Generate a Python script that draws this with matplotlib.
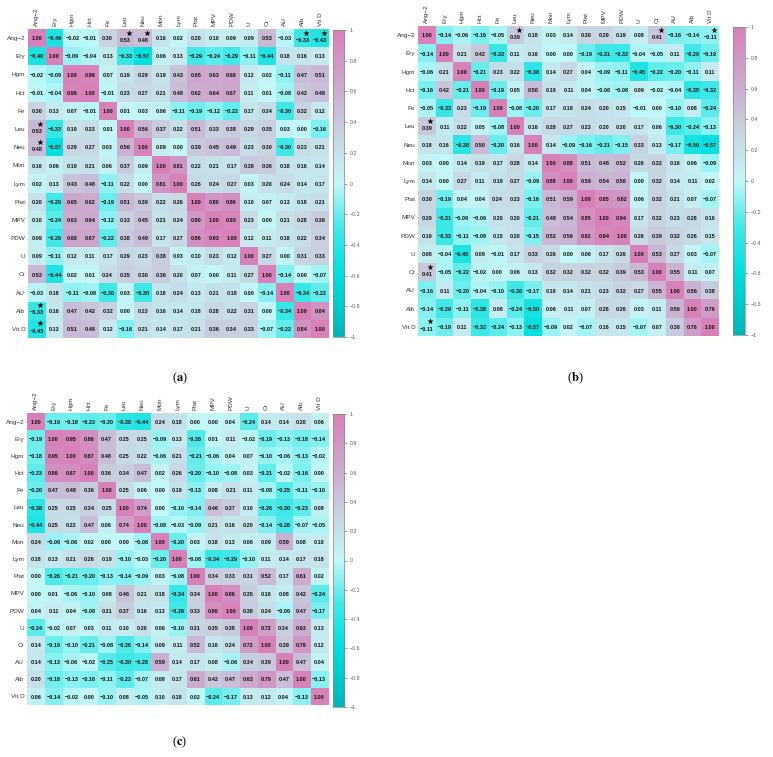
import numpy as np
import matplotlib
matplotlib.use("Agg")
import matplotlib.pyplot as plt
from matplotlib.colors import LinearSegmentedColormap

labels = ["Ang\u22122", "Ery", "Hgm", "Hct", "Fe", "Leu", "Neu", "Mon", "Lym",
          "Plat", "MPV", "PDW", "U", "Cr", "AU", "Alb", "Vit D"]

corr_a = [
    [1.00, -0.46, -0.02, -0.01, 0.30, 0.53, 0.48, 0.16, 0.02, 0.20, 0.10, 0.09, 0.09, 0.53, -0.03, -0.33, -0.43],
    [-0.46, 1.00, -0.09, -0.04, 0.13, -0.33, -0.57, 0.06, 0.13, -0.29, -0.24, -0.29, -0.11, -0.44, 0.18, 0.16, 0.13],
    [-0.02, -0.09, 1.00, 0.96, 0.07, 0.19, 0.29, 0.19, 0.43, 0.65, 0.63, 0.68, 0.12, 0.02, -0.11, 0.47, 0.51],
    [-0.01, -0.04, 0.96, 1.00, -0.01, 0.23, 0.27, 0.21, 0.48, 0.62, 0.64, 0.67, 0.11, 0.01, -0.08, 0.42, 0.48],
    [0.30, 0.13, 0.07, -0.01, 1.00, 0.01, 0.03, 0.06, -0.11, -0.19, -0.12, -0.22, 0.17, 0.24, -0.30, 0.32, 0.12],
    [0.53, -0.33, 0.19, 0.23, 0.01, 1.00, 0.56, 0.37, 0.22, 0.51, 0.33, 0.38, 0.29, 0.35, 0.03, 0.00, -0.16],
    [0.48, -0.57, 0.29, 0.27, 0.03, 0.56, 1.00, 0.09, 0.00, 0.39, 0.45, 0.49, 0.23, 0.30, -0.30, 0.23, 0.21],
    [0.16, 0.06, 0.19, 0.21, 0.06, 0.37, 0.09, 1.00, 0.81, 0.22, 0.21, 0.17, 0.38, 0.36, 0.18, 0.16, 0.14],
    [0.02, 0.13, 0.43, 0.48, -0.11, 0.22, 0.00, 0.81, 1.00, 0.26, 0.24, 0.27, 0.03, 0.20, 0.24, 0.14, 0.17],
    [0.20, -0.29, 0.65, 0.62, -0.19, 0.51, 0.39, 0.22, 0.26, 1.00, 0.80, 0.86, 0.10, 0.07, 0.13, 0.18, 0.21],
    [0.10, -0.24, 0.63, 0.64, -0.12, 0.33, 0.45, 0.21, 0.24, 0.80, 1.00, 0.93, 0.23, 0.00, 0.21, 0.28, 0.36],
    [0.09, -0.29, 0.68, 0.67, -0.22, 0.38, 0.49, 0.17, 0.27, 0.86, 0.93, 1.00, 0.12, 0.11, 0.18, 0.22, 0.34],
    [0.09, -0.11, 0.12, 0.11, 0.17, 0.29, 0.23, 0.38, 0.03, 0.10, 0.23, 0.12, 1.00, 0.27, 0.00, 0.31, 0.33],
    [0.53, -0.44, 0.02, 0.01, 0.24, 0.35, 0.30, 0.36, 0.20, 0.07, 0.00, 0.11, 0.27, 1.00, -0.14, 0.00, -0.07],
    [-0.03, 0.18, -0.11, -0.08, -0.30, 0.03, -0.30, 0.18, 0.24, 0.13, 0.21, 0.18, 0.00, -0.14, 1.00, -0.34, -0.22],
    [-0.33, 0.16, 0.47, 0.42, 0.32, 0.00, 0.23, 0.16, 0.14, 0.18, 0.28, 0.22, 0.31, 0.00, -0.34, 1.00, 0.84],
    [-0.43, 0.13, 0.51, 0.48, 0.12, -0.16, 0.21, 0.14, 0.17, 0.21, 0.36, 0.34, 0.33, -0.07, -0.22, 0.84, 1.00],
]

corr_b = [
    [1.00, -0.14, -0.06, -0.16, -0.05, 0.39, 0.18, 0.03, 0.14, 0.30, 0.29, 0.19, 0.08, 0.41, -0.16, -0.14, -0.11],
    [-0.14, 1.00, 0.21, 0.42, -0.33, 0.11, 0.16, 0.00, 0.00, -0.19, -0.31, -0.32, -0.04, -0.05, 0.11, -0.29, -0.19],
    [-0.06, 0.21, 1.00, -0.21, 0.23, 0.22, -0.38, 0.14, 0.27, 0.04, -0.09, -0.11, -0.45, -0.22, -0.20, -0.11, 0.11],
    [-0.16, 0.42, -0.21, 1.00, -0.19, 0.05, 0.50, 0.19, 0.11, 0.04, -0.06, -0.08, 0.09, -0.02, -0.04, -0.38, -0.32],
    [-0.05, -0.33, 0.23, -0.19, 1.00, -0.08, -0.20, 0.17, 0.19, 0.24, 0.20, 0.15, -0.01, 0.00, -0.10, 0.08, -0.24],
    [0.39, 0.11, 0.22, 0.05, -0.08, 1.00, 0.16, 0.28, 0.27, 0.23, 0.20, 0.20, 0.17, 0.06, -0.30, -0.24, -0.13],
    [0.18, 0.16, -0.38, 0.50, -0.20, 0.16, 1.00, 0.14, -0.09, -0.16, -0.21, -0.15, 0.33, 0.13, -0.17, -0.50, -0.57],
    [0.03, 0.00, 0.14, 0.19, 0.17, 0.28, 0.14, 1.00, 0.88, 0.51, 0.48, 0.52, 0.26, 0.32, 0.16, 0.06, -0.09],
    [0.14, 0.00, 0.27, 0.11, 0.19, 0.27, -0.09, 0.88, 1.00, 0.59, 0.54, 0.56, 0.00, 0.32, 0.14, 0.11, 0.02],
    [0.30, -0.19, 0.04, 0.04, 0.24, 0.23, -0.16, 0.51, 0.59, 1.00, 0.85, 0.82, 0.06, 0.32, 0.21, 0.07, -0.07],
    [0.29, -0.31, -0.09, -0.06, 0.20, 0.20, -0.21, 0.48, 0.54, 0.85, 1.00, 0.94, 0.17, 0.32, 0.23, 0.28, 0.16],
    [0.19, -0.32, -0.11, -0.08, 0.15, 0.20, -0.15, 0.52, 0.56, 0.82, 0.94, 1.00, 0.26, 0.39, 0.32, 0.26, 0.15],
    [0.08, -0.04, -0.45, 0.09, -0.01, 0.17, 0.33, 0.26, 0.00, 0.06, 0.17, 0.26, 1.00, 0.53, 0.27, 0.03, -0.07],
    [0.41, -0.05, -0.22, -0.02, 0.00, 0.06, 0.13, 0.32, 0.32, 0.32, 0.32, 0.39, 0.53, 1.00, 0.55, 0.11, 0.07],
    [-0.16, 0.11, -0.20, -0.04, -0.10, -0.30, -0.17, 0.16, 0.14, 0.21, 0.23, 0.32, 0.27, 0.55, 1.00, 0.56, 0.38],
    [-0.14, -0.29, -0.11, -0.38, 0.08, -0.24, -0.50, 0.06, 0.11, 0.07, 0.28, 0.26, 0.03, 0.11, 0.56, 1.00, 0.76],
    [-0.11, -0.19, 0.11, -0.32, -0.24, -0.13, -0.57, -0.09, 0.02, -0.07, 0.16, 0.15, -0.07, 0.07, 0.38, 0.76, 1.00],
]

corr_c = [
    [1.00, -0.19, -0.18, -0.23, -0.20, -0.38, -0.44, 0.24, 0.18, 0.00, 0.00, 0.04, -0.24, 0.14, 0.14, 0.20, 0.06],
    [-0.19, 1.00, 0.95, 0.86, 0.47, 0.25, 0.25, -0.09, 0.13, -0.26, 0.01, 0.11, -0.02, -0.19, -0.13, -0.18, -0.14],
    [-0.18, 0.95, 1.00, 0.87, 0.48, 0.25, 0.22, -0.06, 0.21, -0.21, -0.06, 0.04, 0.07, -0.10, -0.06, -0.13, -0.02],
    [-0.23, 0.86, 0.87, 1.00, 0.36, 0.34, 0.47, 0.02, 0.26, -0.20, -0.10, -0.08, 0.03, -0.21, -0.02, -0.16, 0.00],
    [-0.20, 0.47, 0.48, 0.36, 1.00, 0.25, 0.06, 0.00, 0.19, -0.13, 0.08, 0.21, 0.11, -0.08, -0.25, -0.11, -0.10],
    [-0.38, 0.25, 0.25, 0.34, 0.25, 1.00, 0.74, 0.00, -0.10, -0.14, 0.46, 0.37, 0.10, -0.26, -0.30, -0.23, 0.08],
    [-0.44, 0.25, 0.22, 0.47, 0.06, 0.74, 1.00, -0.08, -0.03, -0.09, 0.21, 0.16, 0.20, -0.14, -0.28, -0.07, -0.05],
    [0.24, -0.09, -0.06, 0.02, 0.00, 0.00, -0.08, 1.00, -0.20, 0.03, 0.18, 0.13, 0.06, 0.09, 0.59, 0.08, 0.10],
    [0.18, 0.13, 0.21, 0.26, 0.19, -0.10, -0.03, -0.20, 1.00, -0.08, -0.34, -0.29, -0.10, 0.11, 0.14, 0.17, 0.18],
    [0.00, -0.26, -0.21, -0.20, -0.13, -0.14, -0.09, 0.03, -0.08, 1.00, 0.34, 0.33, 0.31, 0.52, 0.17, 0.61, 0.02],
    [0.00, 0.01, -0.06, -0.10, 0.08, 0.46, 0.21, 0.18, -0.34, 0.34, 1.00, 0.86, 0.35, 0.16, 0.08, 0.42, -0.24],
    [0.04, 0.11, 0.04, -0.08, 0.21, 0.37, 0.16, 0.13, -0.29, 0.33, 0.86, 1.00, 0.38, 0.24, -0.06, 0.47, -0.17],
    [-0.24, -0.02, 0.07, 0.03, 0.11, 0.10, 0.20, 0.06, -0.10, 0.31, 0.35, 0.38, 1.00, 0.72, 0.34, 0.63, 0.13],
    [0.14, -0.19, -0.10, -0.21, -0.08, -0.26, -0.14, 0.09, 0.11, 0.52, 0.16, 0.24, 0.72, 1.00, 0.39, 0.79, 0.12],
    [0.14, -0.13, -0.06, -0.02, -0.25, -0.30, -0.28, 0.59, 0.14, 0.17, 0.08, -0.06, 0.34, 0.39, 1.00, 0.47, 0.04],
    [0.20, -0.18, -0.13, -0.16, -0.11, -0.23, -0.07, 0.08, 0.17, 0.61, 0.42, 0.47, 0.63, 0.79, 0.47, 1.00, -0.13],
    [0.06, -0.14, -0.02, 0.00, -0.10, 0.08, -0.05, 0.10, 0.18, 0.02, -0.24, -0.17, 0.13, 0.12, 0.04, -0.13, 1.00],
]

# significance stars: (row, col) pairs
stars_a = [(0, 5), (0, 6), (0, 15), (0, 16)]
stars_b = [(0, 5), (0, 13), (0, 16)]
stars_c = []

cmap = LinearSegmentedColormap.from_list(
    "corr",
    [(0.0, "#00b4b8"), (0.2, "#00dede"), (0.35, "#40e8e8"), (0.5, "#c2f8f8"),
     (0.65, "#c8d6e2"), (0.8, "#cbaed0"), (1.0, "#d880b8")])

W, H = 773, 757
fig = plt.figure(figsize=(W / 100, H / 100), dpi=100)
plt.rcParams['font.family'] = ['Liberation Sans', 'DejaVu Sans']
plt.rcParams['mathtext.fontset'] = 'stix'


def px_rect(x0, y0, x1, y1):
    return [x0 / W, 1 - y1 / H, (x1 - x0) / W, (y1 - y0) / H]


def fmt(v):
    s = f"{v:.2f}"
    return s.replace("-", "\u2212")


def draw_panel(mat, stars, rect, cbrect, letter, letter_xy):
    m = np.array(mat)
    n = len(labels)
    ax = fig.add_axes(px_rect(*rect))
    ax.imshow(m, cmap=cmap, vmin=-1, vmax=1, aspect='auto',
              extent=(-0.5, n - 0.5, n - 0.5, -0.5), interpolation='nearest')
    sset = sorted(set(stars) | set((c, r) for r, c in stars))
    for i in range(n):
        for j in range(n):
            dy = 0.12 if (i, j) in sset else 0.04
            ax.text(j, i + dy, fmt(m[i, j]), ha='center', va='center',
                    fontsize=4.0, fontweight='bold', color='#111111')
    if sset:
        sr = np.array([p[0] for p in sset])
        sc = np.array([p[1] for p in sset])
        ax.scatter(sc + 0.2, sr - 0.3, marker='*', s=22, color='black',
                   linewidths=0, zorder=5, clip_on=False)
    ax.set_xlim(-0.5, n - 0.5)
    ax.set_ylim(n - 0.5, -0.5)
    ax.set_xticks(range(n))
    ax.set_yticks(range(n))
    ax.set_xticklabels(labels, rotation=90, fontsize=4.6, color='#333333')
    ax.set_yticklabels(labels, fontsize=4.6, color='#333333')
    ax.xaxis.tick_top()
    ax.tick_params(length=0, pad=2)
    for s in ax.spines.values():
        s.set_visible(False)

    cax = fig.add_axes(px_rect(*cbrect))
    grad = np.linspace(1, -1, 256).reshape(-1, 1)
    cax.imshow(grad, cmap=cmap, vmin=-1, vmax=1, aspect='auto',
               extent=(0, 1, -1, 1))
    cax.set_xticks([])
    ticks = np.round(np.arange(-1, 1.01, 0.2), 1)
    cax.yaxis.tick_right()
    cax.set_yticks(ticks)
    cax.set_yticklabels([("0" if abs(t) < 1e-9 else (f"{t:g}")).replace("-", "\u2212") for t in ticks],
                        fontsize=3.8, color='#333333')
    cax.tick_params(axis='y', length=2, width=0.4, pad=2, colors='#555555')
    for s in cax.spines.values():
        s.set_color('#888888')
        s.set_linewidth(0.5)

    fig.text(letter_xy[0] / W, 1 - letter_xy[1] / H,
             "($\\mathbf{" + letter + "}$)", ha='center', va='center',
             fontsize=9, family='Liberation Serif')


draw_panel(corr_a, stars_a, (28, 29, 329, 338), (333, 30, 344, 337), "a", (180, 378))
draw_panel(corr_b, stars_b, (418, 26, 719, 336), (733, 27, 745, 335), "b", (575, 378))
draw_panel(corr_c, stars_c, (27, 413, 328, 705), (333, 414, 344, 707), "c", (180, 742))

fig.savefig("out.png", dpi=100)
